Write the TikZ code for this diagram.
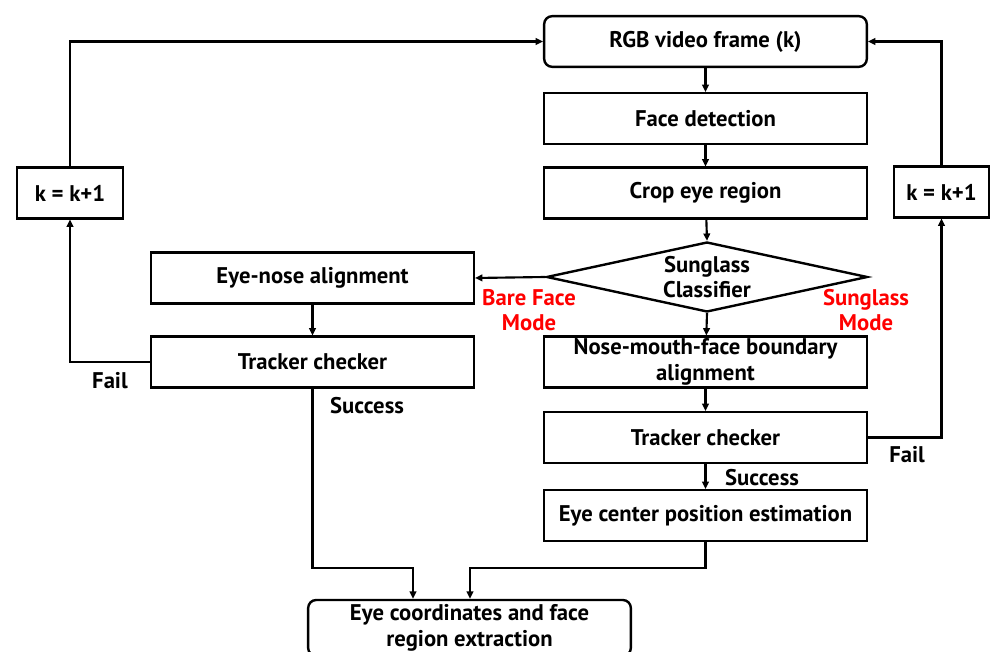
\documentclass[tikz,border=0pt]{standalone}
\usepackage{fontspec}
\setmainfont{PT Sans}
\usetikzlibrary{shapes.geometric,arrows.meta,calc}

\definecolor{modered}{RGB}{255,0,0}

\tikzset{
  every node/.style={font=\bfseries\fontsize{17}{19}\selectfont, inner sep=0pt},
  box/.style={draw, line width=1.8pt, align=center,
              minimum width=242pt, minimum height=38pt},
  startbox/.style={box, rounded corners=6pt},
  kbox/.style={draw, line width=1.8pt, minimum height=38pt},
  decide/.style={draw, line width=1.8pt, diamond, shape aspect=4.6,
                 align=center, minimum width=240.75pt, minimum height=52.5pt},
  arr/.style={line width=1.6pt, -{Triangle[length=5.5pt,width=5pt]}},
  modelabel/.style={text=modered, align=center},
}

\begin{document}
\begin{tikzpicture}[x=0.75pt, y=-0.75pt]
  \useasboundingbox (0,0) rectangle (999,652);

  % right-hand processing column
  \node[startbox] (rgb)  at (705.5,41.5)  {RGB video frame (k)};
  \node[box]      (fd)   at (705.5,118.5) {Face detection};
  \node[box]      (crop) at (705.5,193)   {Crop eye region};
  \node[decide]   (cls)  at (707,277)     {Sunglass\\Classifier};
  \node[box]      (nm)   at (705.5,362)   {Nose-mouth-face boundary\\alignment};
  \node[box]      (trR)  at (705.5,437.5) {Tracker checker};
  \node[box]      (ec)   at (705.5,515.5) {Eye center position estimation};

  % left-hand (bare face) column
  \node[box] (en)  at (312.5,278) {Eye-nose alignment};
  \node[box] (trL) at (312.5,362) {Tracker checker};

  % frame counters
  \node[kbox, minimum width=79.5pt] (kL) at (70,193)    {k = k+1};
  \node[kbox, minimum width=71pt]   (kR) at (941.5,192) {k = k+1};

  % final output
  \node[startbox, minimum height=42pt] (out) at (469.5,628)
       {Eye coordinates and face\\region extraction};

  % main flow
  \draw[arr] (rgb) -- (fd);
  \draw[arr] (fd) -- (crop);
  \draw[arr] (crop) -- (cls.north);
  \draw[arr] (cls.south) -- (nm);
  \draw[arr] (nm) -- (trR);
  \draw[arr] (trR) -- (ec);
  \draw[arr] (cls.west) -- (en.east);
  \draw[arr] (en) -- (trL);

  % failure loops back to the next frame
  \draw[arr] (trL.west) -| (kL.south);
  \draw[arr] (kL.north) |- (rgb.west);
  \draw[arr] (trR.east) -| (kR.south);
  \draw[arr] (kR.north) |- (rgb.east);

  % merge into the output block
  \coordinate (j1) at (413,568);
  \coordinate (j2) at (470,568);
  \draw[arr] (trL.south) |- (j1) -- (j1 |- out.north);
  \draw[arr] (ec.south) |- (j2) -- (j2 |- out.north);

  % labels
  \node[modelabel] at (529,310) {Bare Face\\Mode};
  \node[modelabel] at (866,310) {Sunglass\\Mode};
  \node at (110,381) {Fail};
  \node at (367,406) {Success};
  \node at (907,455) {Fail};
  \node at (762,478) {Success};
\end{tikzpicture}
\end{document}
